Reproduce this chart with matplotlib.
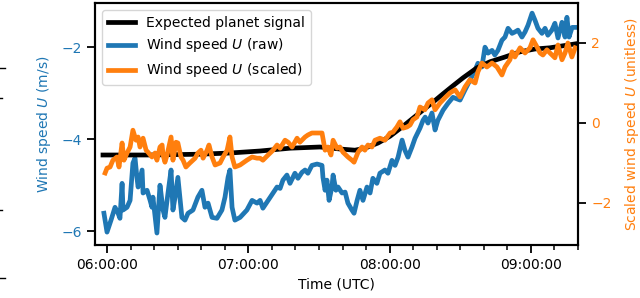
import matplotlib
matplotlib.use("Agg")
import matplotlib.pyplot as plt
import matplotlib.dates as mdates
from matplotlib.lines import Line2D
import pandas as pd

start = pd.Timestamp("2021-01-01 06:00:00")

# minutes after 06:00 UTC
raw_t = [-1.3, 0.0, 1.7, 3.4, 4.7, 5.5, 6.4, 6.8, 8.5, 9.8,
         11.0, 11.9, 12.7, 13.2, 14.9, 15.3, 17.0, 18.3, 19.1, 19.5,
         21.2, 22.5, 23.8, 24.6, 25.9, 27.2, 28.0, 28.9, 30.1, 31.8,
         33.1, 34.4, 36.5, 38.6, 40.3, 41.6, 42.9, 44.6, 46.7, 48.8,
         50.1, 51.4, 52.2, 53.1, 54.3, 56.5, 59.4, 61.6, 63.7, 65.0,
         66.2, 68.4, 70.5, 72.2, 73.5, 74.7, 76.4, 77.7, 79.8, 81.1,
         82.8, 84.1, 85.3, 87.0, 89.2, 91.3, 91.7, 92.6, 93.4, 94.3,
         95.5, 96.0, 97.2, 98.1, 99.8, 101.1, 102.3, 104.0, 104.9, 106.2,
         107.4, 108.7, 110.4, 111.7, 112.9, 114.6, 115.9, 118.0, 119.3, 121.0,
         122.3, 123.6, 125.3, 126.5, 127.8, 129.5, 130.8, 132.9, 134.2, 135.1,
         136.3, 138.0, 139.3, 140.5, 142.7, 144.8, 146.9, 149.9, 152.0, 154.1,
         156.3, 157.5, 159.2, 160.5, 161.8, 163.5, 164.7, 166.0, 167.7, 169.0,
         170.3, 172.0, 173.2, 174.5, 176.2, 177.5, 178.8, 180.5, 181.7, 183.0,
         184.7, 186.0, 187.2, 188.9, 190.2, 191.5, 193.2, 194.5, 195.3, 196.2,
         197.5, 198.8]
raw_u = [-5.61, -6.02, -5.76, -5.48, -5.61, -5.72, -4.96, -5.54, -5.48, -5.33,
         -4.52, -4.41, -4.83, -5.04, -4.67, -5.17, -5.11, -5.33, -5.48, -5.26,
         -6.04, -5.00, -5.54, -5.70, -5.17, -4.67, -5.54, -5.26, -4.83, -5.70,
         -5.76, -5.61, -5.54, -5.26, -5.11, -5.48, -5.39, -5.70, -5.72, -5.54,
         -5.26, -4.83, -4.67, -5.48, -5.76, -5.70, -5.54, -5.33, -5.39, -5.33,
         -5.50, -5.33, -5.17, -5.04, -5.07, -4.89, -4.78, -4.96, -4.74, -4.85,
         -4.72, -4.67, -4.74, -4.57, -4.54, -4.57, -4.83, -5.11, -4.89, -5.33,
         -5.04, -4.78, -5.11, -5.04, -5.17, -5.15, -5.39, -5.54, -5.61, -5.33,
         -5.11, -5.33, -5.04, -5.17, -4.85, -4.96, -4.74, -4.67, -4.74, -4.46,
         -4.57, -4.39, -4.02, -4.24, -4.39, -4.17, -3.98, -3.76, -3.59, -3.52,
         -3.65, -3.43, -3.80, -3.59, -3.37, -3.22, -3.09, -3.15, -2.93, -2.72,
         -2.50, -2.35, -2.43, -2.00, -2.13, -2.07, -2.17, -2.07, -1.85, -1.78,
         -1.59, -1.70, -1.67, -1.63, -1.78, -1.67, -1.52, -1.26, -1.41, -1.59,
         -1.70, -1.59, -1.74, -1.63, -1.48, -1.80, -1.46, -1.78, -1.35, -1.78,
         -1.57, -1.57]

scaled_t = [-0.8, 0.0, 1.3, 2.5, 4.2, 5.1, 6.4, 7.2, 8.5, 9.8,
            11.0, 12.3, 13.2, 14.0, 15.3, 16.6, 17.4, 19.1, 20.4, 21.2,
            22.5, 23.4, 23.8, 24.6, 25.5, 27.2, 28.0, 29.3, 30.1, 31.4,
            32.3, 33.5, 35.2, 37.4, 38.6, 39.9, 40.8, 42.5, 43.3, 44.6,
            45.9, 48.0, 49.3, 51.0, 52.2, 53.1, 54.3, 56.5, 59.4, 61.6,
            63.7, 65.0, 66.2, 68.4, 70.5, 72.2, 73.5, 75.6, 76.9, 78.6,
            80.7, 81.9, 84.1, 85.3, 87.0, 89.2, 91.3, 92.6, 93.8, 95.1,
            96.0, 97.7, 98.9, 100.2, 102.3, 104.0, 104.9, 106.6, 108.3, 109.5,
            110.8, 112.5, 113.8, 115.9, 118.0, 120.2, 121.4, 123.1, 124.4, 125.7,
            127.4, 128.7, 129.9, 131.6, 132.9, 135.0, 136.3, 138.0, 139.3, 141.4,
            143.5, 145.6, 147.8, 149.9, 152.0, 154.1, 156.3, 157.5, 159.2, 161.3,
            163.5, 165.6, 167.7, 169.0, 171.1, 172.0, 173.2, 175.4, 177.5, 179.6,
            180.9, 182.6, 183.9, 185.1, 186.8, 188.1, 190.2, 191.5, 193.2, 194.5,
            195.7, 197.4, 198.8]
scaled_u = [-1.25, -1.13, -1.10, -0.93, -0.85, -1.10, -0.50, -0.93, -0.75, -0.60,
            -0.18, -0.43, -0.35, -0.60, -0.38, -0.68, -0.73, -0.85, -0.75, -0.93,
            -0.60, -0.55, -0.80, -0.98, -0.80, -0.35, -0.93, -0.48, -0.50, -0.85,
            -0.93, -1.10, -1.00, -0.88, -0.75, -0.68, -0.88, -0.68, -0.55, -0.85,
            -1.05, -1.00, -0.85, -0.68, -0.35, -0.85, -1.10, -1.05, -0.93, -0.85,
            -0.88, -0.88, -0.93, -0.80, -0.68, -0.55, -0.63, -0.43, -0.48, -0.60,
            -0.38, -0.48, -0.35, -0.30, -0.25, -0.25, -0.25, -0.68, -0.60, -0.80,
            -0.43, -0.63, -0.60, -0.73, -0.85, -0.93, -0.98, -0.73, -0.60, -0.68,
            -0.55, -0.60, -0.43, -0.38, -0.43, -0.25, -0.23, -0.10, 0.03, -0.13,
            -0.10, -0.05, 0.08, 0.15, 0.40, 0.33, 0.50, 0.58, 0.33, 0.50,
            0.63, 0.75, 0.83, 0.65, 0.90, 1.08, 1.00, 1.28, 1.50, 1.40,
            1.50, 1.40, 1.20, 1.40, 1.58, 1.78, 1.65, 1.88, 1.75, 1.88,
            2.08, 1.90, 1.75, 1.70, 1.83, 1.75, 1.63, 1.95, 1.58, 1.75,
            2.00, 1.65, 1.88]

planet_t = [-1.7, 18.3, 39.5, 52.2, 65.0, 77.7, 90.4, 98.9, 105.3, 109.5,
            115.1, 120.2, 125.3, 129.5, 133.7, 138.0, 142.7, 146.9, 151.2, 157.1,
            162.6, 169.0, 175.4, 181.7, 188.1, 193.6, 199.1]
planet_u = [-0.80, -0.80, -0.78, -0.75, -0.70, -0.63, -0.60, -0.65, -0.68, -0.63,
            -0.50, -0.33, -0.10, 0.10, 0.30, 0.50, 0.73, 0.93, 1.13, 1.38,
            1.53, 1.65, 1.78, 1.85, 1.88, 1.93, 1.98]


def to_time(mins):
    return [start + pd.Timedelta(minutes=m) for m in mins]


plt.rcParams['font.size'] = 10
plt.rcParams['axes.linewidth'] = 1.5
plt.rcParams['xtick.major.size'] = 6
plt.rcParams['ytick.major.size'] = 6
plt.rcParams['xtick.minor.size'] = 3.5
plt.rcParams['xtick.major.width'] = 1.3
plt.rcParams['ytick.major.width'] = 1.3
plt.rcParams['xtick.minor.width'] = 1.1

fig = plt.figure(figsize=(6.4, 2.98), dpi=100)
ax = fig.add_axes([95/640, 1-245/298, 483/640, 242/298])
ax2 = ax.twinx()

ax.plot(to_time(raw_t), raw_u, color="C0", lw=3.4, label="Wind speed $U$ (raw)")
ax2.plot(to_time(planet_t), planet_u, color="black", lw=3.4, label="Expected planet signal")
ax2.plot(to_time(scaled_t), scaled_u, color="C1", lw=3.4, label="Wind speed $U$ (scaled)")

ax.set_xlim(start - pd.Timedelta(minutes=5.1), start + pd.Timedelta(minutes=200))
ax.set_ylim(-6.3, -1.04)
ax2.set_ylim(-3.05, 3.0)
ax.set_yticks([-6, -4, -2])
ax2.set_yticks([-2, 0, 2])

ax.xaxis.set_major_locator(mdates.HourLocator())
ax.xaxis.set_minor_locator(mdates.MinuteLocator(byminute=range(0, 60, 10)))
ax.xaxis.set_major_formatter(mdates.DateFormatter("%H:%M:%S"))

ax.set_xlabel("Time (UTC)")
ax.set_ylabel("Wind speed $U$ (m/s)", color="C0", labelpad=6)
ax2.set_ylabel("Scaled wind speed $U$ (unitless)", color="C1", labelpad=8)
ax.tick_params(axis="y", labelcolor="C0")
ax2.tick_params(axis="y", labelcolor="C1")

h1, l1 = ax.get_legend_handles_labels()
h2, l2 = ax2.get_legend_handles_labels()
ax2.legend([h2[0], h1[0], h2[1]], [l2[0], l1[0], l2[1]], loc="upper left")

# stray tick marks from a neighbouring panel at the left edge
for yy, ln in [(68, 5), (98, 1.5), (210, 2), (278, 5)]:
    fig.add_artist(Line2D([0, ln/640], [1-yy/298, 1-yy/298], color="black", lw=1,
                          transform=fig.transFigure))

fig.savefig("out.png", dpi=100)
